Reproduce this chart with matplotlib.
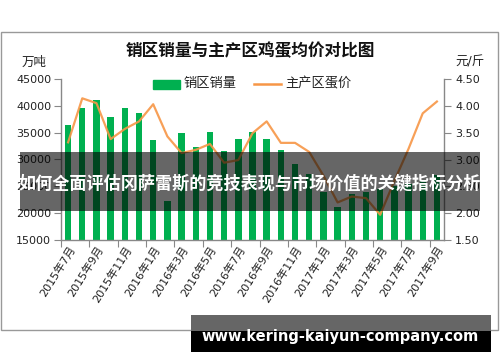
import matplotlib
matplotlib.use("Agg")
import matplotlib.pyplot as plt
from matplotlib.patches import Rectangle
from matplotlib.lines import Line2D
import numpy as np

plt.rcParams['font.family'] = ['DejaVu Sans', 'Noto Sans CJK SC']

months = ["2015年7月", "2015年8月", "2015年9月", "2015年10月", "2015年11月", "2015年12月",
          "2016年1月", "2016年2月", "2016年3月", "2016年4月", "2016年5月", "2016年6月",
          "2016年7月", "2016年8月", "2016年9月", "2016年10月", "2016年11月", "2016年12月",
          "2017年1月", "2017年2月", "2017年3月", "2017年4月", "2017年5月", "2017年6月",
          "2017年7月", "2017年8月", "2017年9月"]
sales = [36500, 39600, 41100, 38000, 39600, 38600, 33700, 22300, 34900, 32400,
         35100, 31600, 33900, 35100, 33900, 31700, 29100, 27300, 24000, 21200,
         23500, 24000, 24500, 25000, 25500, 26000, 27100]
price = [3.32, 4.14, 4.05, 3.38, 3.57, 3.71, 4.03, 3.43, 3.12, 3.18, 3.29, 2.94,
         2.99, 3.49, 3.71, 3.31, 3.31, 3.14, 2.70, 2.20, 2.31, 2.28, 1.97, 2.60,
         3.20, 3.86, 4.08]
left_ticks = [15000, 20000, 25000, 30000, 35000, 40000, 45000]
right_ticks = [1.50, 2.00, 2.50, 3.00, 3.50, 4.00, 4.50]

W, H = 500, 362
fig = plt.figure(figsize=(W / 100, H / 100), dpi=100)

def fx(x):
    return x / W

def fy(y):
    return 1 - y / H

ax = fig.add_axes([fx(61), fy(240), (444 - 61) / W, (240 - 79) / H])
ax2 = ax.twinx()

x = np.arange(len(months))
ax.bar(x, sales, width=0.45, color='#00B050', zorder=2)
ax2.plot(x, price, color='#F79646', lw=1.6, alpha=0.9, solid_joinstyle='round')

ax.set_xlim(-0.5, len(months) - 0.5)
ax.set_ylim(15000, 45000)
ax2.set_ylim(1.5, 4.5)
ax.set_yticks(left_ticks)
ax.set_yticklabels([str(v) for v in left_ticks])
ax2.set_yticks(right_ticks)
ax2.set_yticklabels([f"{v:.2f}" for v in right_ticks])

ax.set_xticks(np.arange(-0.5, len(months), 2))
ax.set_xticklabels([])
ax.set_xticks(x[::2], minor=True)
ax.set_xticklabels(months[::2], minor=True, rotation=58, ha='right',
                   rotation_mode='anchor', fontsize=8, color='#222222')
ax.tick_params(axis='x', which='minor', length=0, pad=3)
ax.tick_params(axis='x', which='major', length=5, color='#888888', direction='out')
ax.tick_params(axis='y', length=5, color='#888888', labelsize=8, labelcolor='#222222', pad=2)
ax2.tick_params(axis='y', length=5, color='#888888', labelsize=8, labelcolor='#222222', pad=3)

for a in (ax, ax2):
    a.spines['top'].set_visible(False)
    for s in ('left', 'right', 'bottom'):
        a.spines[s].set_color('#888888')
        a.spines[s].set_linewidth(1.0)
ax.spines['right'].set_visible(False)
ax2.spines['left'].set_visible(False)
ax2.spines['bottom'].set_visible(False)

# frame
fig.add_artist(Rectangle((fx(1), fy(330)), 497 / W, (330 - 32) / H, transform=fig.transFigure,
                         fill=False, edgecolor='#999999', lw=1.0, zorder=5))

fig.text(fx(250), fy(51), "销区销量与主产区鸡蛋均价对比图", ha='center', va='center',
         fontsize=12, fontweight='bold', color='#111111')
fig.text(fx(34), fy(62), "万吨", ha='center', va='center', fontsize=9, color='#222222')
fig.text(fx(470), fy(62), "元/斤", ha='center', va='center', fontsize=9, color='#222222')

# legend
fig.add_artist(Rectangle((fx(153), fy(89)), 27 / W, 9 / H, transform=fig.transFigure,
                         color='#00B050', zorder=6))
fig.text(fx(183), fy(84), "销区销量", ha='left', va='center', fontsize=9.5, color='#222222')
fig.add_artist(Line2D([fx(254), fx(281)], [fy(84), fy(84)], transform=fig.transFigure,
                      color='#F79646', lw=1.8, zorder=6))
fig.text(fx(285), fy(84), "主产区蛋价", ha='left', va='center', fontsize=9.5, color='#222222')

# overlay banner
fig.add_artist(Rectangle((fx(20), fy(211)), 460 / W, 59 / H, transform=fig.transFigure,
                         color='black', alpha=0.6, lw=0, zorder=10))
fig.text(fx(250), fy(184), "如何全面评估冈萨雷斯的竞技表现与市场价值的关键指标分析",
         ha='center', va='center', fontsize=12.3, fontweight='bold', color='white', zorder=11)

# footer
fig.add_artist(Rectangle((fx(191), fy(331)), 300 / W, 16 / H, transform=fig.transFigure,
                         color='#666666', lw=0, zorder=10))
fig.add_artist(Rectangle((fx(191), fy(352)), 300 / W, 21 / H, transform=fig.transFigure,
                         color='black', lw=0, zorder=10))
fig.text(fx(340), fy(337), "www.kering-kaiyun-company.com", ha='center', va='center',
         fontsize=10.5, fontweight='bold', color='white', zorder=11)

fig.savefig("out.png", dpi=100)
